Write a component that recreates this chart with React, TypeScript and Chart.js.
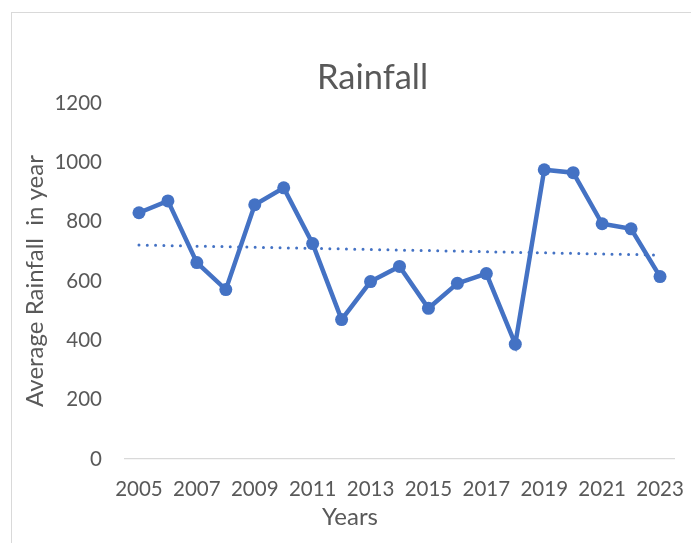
import React, { useEffect, useRef } from "react";
import { Chart, registerables } from "chart.js";

Chart.register(...registerables);

const years = [
  "2005", "2006", "2007", "2008", "2009", "2010", "2011", "2012", "2013", "2014",
  "2015", "2016", "2017", "2018", "2019", "2020", "2021", "2022", "2023",
];
const rainfall = [
  830, 870, 662, 571, 857, 914, 726, 470, 598, 649,
  508, 592, 625, 387, 975, 965, 793, 776, 615,
];
const yTicks = [0, 200, 400, 600, 800, 1000, 1200];

const chartTitle = "Rainfall";
const xTitle = "Years";
const yTitle = "Average Rainfall  in year";

const BLUE = "#4472C4";
const TEXT = "#595959";
const FONT = "Lato, 'Open Sans', sans-serif";

// linear least-squares trendline over the series (as Excel's linear trendline)
function linearTrend(values: number[]): number[] {
  const n = values.length;
  let sx = 0, sy = 0, sxy = 0, sxx = 0;
  values.forEach((v, i) => {
    sx += i; sy += v; sxy += i * v; sxx += i * i;
  });
  const slope = (n * sxy - sx * sy) / (n * sxx - sx * sx);
  const icpt = (sy - slope * sx) / n;
  return values.map((_, i) => icpt + slope * i);
}

const xTitlePlugin = {
  id: "xTitlePlugin",
  afterDraw(chart: any) {
    const ctx = chart.ctx;
    ctx.save();
    ctx.font = `24px ${FONT}`;
    ctx.fillStyle = TEXT;
    ctx.textAlign = "center";
    ctx.textBaseline = "middle";
    ctx.fillText(xTitle, 338, 504);
    ctx.restore();
  },
};

export default function App() {
  const ref = useRef<HTMLCanvasElement | null>(null);

  useEffect(() => {
    document.body.style.margin = "0";
    const canvas = ref.current;
    if (!canvas) return;
    const chart = new Chart(canvas, {
      type: "line",
      data: {
        labels: years,
        datasets: [
          {
            label: "Rainfall",
            data: rainfall,
            borderColor: BLUE,
            backgroundColor: BLUE,
            borderWidth: 4.5,
            pointRadius: 6.5,
            pointBorderWidth: 0,
            pointBackgroundColor: BLUE,
            tension: 0,
            order: 1,
          },
          {
            label: "Linear (Rainfall)",
            data: linearTrend(rainfall),
            borderColor: BLUE,
            borderWidth: 3,
            borderDash: [0, 8.3],
            borderCapStyle: "round",
            pointRadius: 0,
            tension: 0,
            order: 2,
          },
        ],
      },
      options: {
        responsive: false,
        animation: false,
        layout: { padding: 0 },
        plugins: {
          legend: { display: false },
          tooltip: { enabled: false },
          title: {
            display: true,
            text: chartTitle,
            color: TEXT,
            font: { family: FONT, size: 34.5, weight: "normal" },
            padding: { top: 44.3, bottom: 4.3 },
          },
        },
        scales: {
          x: {
            type: "category",
            offset: true,
            grid: { display: false, drawTicks: false },
            border: { display: true, color: "#D9D9D9", width: 1.3 },
            ticks: {
              autoSkip: false,
              maxRotation: 0,
              minRotation: 0,
              padding: 18.2,
              color: TEXT,
              font: { family: FONT, size: 20.5 },
              callback: (_v: any, i: number) => (i % 2 === 0 ? years[i] : ""),
            },
            afterFit: (s: any) => {
              s.height = 91;
            },
          },
          y: {
            min: 0,
            max: 1200,
            afterBuildTicks: (s: any) => {
              s.ticks = yTicks.map((v) => ({ value: v }));
            },
            grid: { display: false, drawTicks: false },
            border: { display: false },
            ticks: {
              padding: 22.5,
              color: TEXT,
              font: { family: FONT, size: 20.5 },
              callback: (v: any) => String(v),
            },
            title: {
              display: true,
              text: yTitle,
              color: TEXT,
              font: { family: FONT, size: 24 },
              padding: { top: 8.6, bottom: 0 },
            },
            afterFit: (s: any) => {
              s.width = 112.5;
            },
          },
          yRight: {
            position: "right",
            display: true,
            min: 0,
            max: 1200,
            grid: { display: false, drawTicks: false },
            border: { display: false },
            ticks: { display: false },
            afterFit: (s: any) => {
              s.width = 58.5;
            },
          },
        },
      },
      plugins: [xTitlePlugin],
    });
    return () => chart.destroy();
  }, []);

  return (
    <div style={{ position: "relative", width: 691, height: 543, overflow: "hidden", background: "#fff" }}>
      <div
        style={{
          position: "absolute",
          left: 11,
          top: 12,
          width: 724,
          height: 540,
          border: "1.5px solid #D9D9D9",
          boxSizing: "border-box",
        }}
      >
        <canvas ref={ref} width={721} height={537} style={{ display: "block", width: 721, height: 537 }} />
      </div>
    </div>
  );
}
